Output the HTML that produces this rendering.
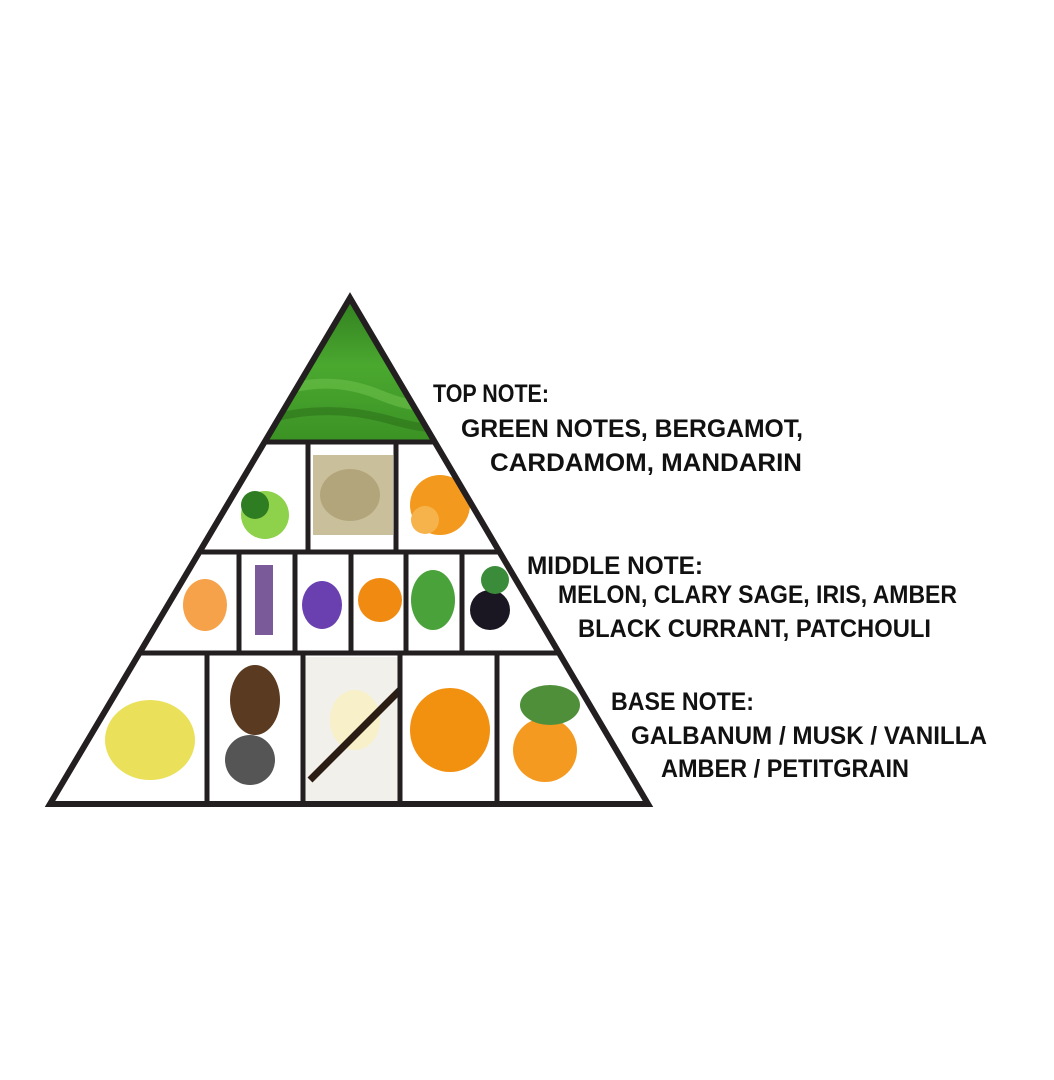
<!DOCTYPE html>
<html><head><meta charset="utf-8"><style>
html,body{margin:0;padding:0;background:#fff;}
svg{display:block}
text{font-family:"Liberation Sans",sans-serif;font-weight:bold;fill:#111;font-size:25px}
</style></head><body>
<svg width="1054" height="1080" viewBox="0 0 1054 1080">
<defs>
<clipPath id="tri"><polygon points="350,297 50,804 648,804"/></clipPath>
<linearGradient id="grass" x1="0" y1="0" x2="0" y2="1">
<stop offset="0" stop-color="#2f7a1e"/><stop offset="0.5" stop-color="#4aa82f"/><stop offset="1" stop-color="#3b9224"/></linearGradient>
</defs>
<rect width="1054" height="1080" fill="#fff"/>
<g clip-path="url(#tri)">
<rect x="0" y="290" width="700" height="152" fill="url(#grass)"/>
<path d="M260,400 Q320,370 380,395 T470,390" stroke="#6cc04a" stroke-width="10" fill="none" opacity="0.6"/>
<path d="M250,425 Q320,400 390,420 T480,415" stroke="#2a6a18" stroke-width="8" fill="none" opacity="0.5"/>
<!-- top row -->
<circle cx="265" cy="515" r="24" fill="#8ed14a"/><circle cx="255" cy="505" r="14" fill="#2f7d22"/>
<rect x="313" y="455" width="80" height="80" fill="#c9bf9a"/>
<ellipse cx="350" cy="495" rx="30" ry="26" fill="#b3a57b"/>
<circle cx="440" cy="505" r="30" fill="#f39a1e"/><circle cx="425" cy="520" r="14" fill="#f7b34b"/>
<!-- middle row -->
<ellipse cx="205" cy="605" rx="22" ry="26" fill="#f5a24a"/>
<rect x="255" y="565" width="18" height="70" fill="#7b5a9a"/>
<ellipse cx="322" cy="605" rx="20" ry="24" fill="#6a3fb0"/>
<ellipse cx="380" cy="600" rx="22" ry="22" fill="#f08a10"/>
<ellipse cx="433" cy="600" rx="22" ry="30" fill="#4aa23a"/>
<circle cx="490" cy="610" r="20" fill="#1b1722"/><circle cx="495" cy="580" r="14" fill="#3a8c3a"/>
<!-- bottom row -->
<ellipse cx="150" cy="740" rx="45" ry="40" fill="#e6d830" opacity="0.8"/>
<ellipse cx="255" cy="700" rx="25" ry="35" fill="#5a3a20"/><ellipse cx="250" cy="760" rx="25" ry="25" fill="#555"/>
<rect x="305" y="657" width="95" height="145" fill="#f2f0ea"/>
<ellipse cx="355" cy="720" rx="25" ry="30" fill="#f7f0c8"/><path d="M310,780 L400,690" stroke="#2b1d14" stroke-width="7"/>
<ellipse cx="450" cy="730" rx="40" ry="42" fill="#f29010"/>
<circle cx="545" cy="750" r="32" fill="#f59a20"/><ellipse cx="550" cy="705" rx="30" ry="20" fill="#4f8f3a"/>
</g>
<g stroke="#231f20" stroke-width="5" fill="none">
<polygon points="350,298 50,804 648,804" stroke-linejoin="miter" stroke-width="6"/>
<line x1="0" y1="442" x2="700" y2="442" clip-path="url(#tri)"/>
<line x1="0" y1="552" x2="700" y2="552" clip-path="url(#tri)"/>
<line x1="0" y1="653" x2="700" y2="653" clip-path="url(#tri)"/>
<line x1="308" y1="442" x2="308" y2="552"/>
<line x1="396" y1="442" x2="396" y2="552"/>
<line x1="239" y1="552" x2="239" y2="653"/>
<line x1="295" y1="552" x2="295" y2="653"/>
<line x1="351" y1="552" x2="351" y2="653"/>
<line x1="406" y1="552" x2="406" y2="653"/>
<line x1="462" y1="552" x2="462" y2="653"/>
<line x1="207" y1="653" x2="207" y2="804"/>
<line x1="303" y1="653" x2="303" y2="804"/>
<line x1="400" y1="653" x2="400" y2="804"/>
<line x1="497" y1="653" x2="497" y2="804"/>
</g>
<text x="433" y="402" textLength="116" lengthAdjust="spacingAndGlyphs">TOP NOTE:</text>
<text x="461" y="437" textLength="342" lengthAdjust="spacingAndGlyphs">GREEN NOTES, BERGAMOT,</text>
<text x="490" y="471" textLength="312" lengthAdjust="spacingAndGlyphs">CARDAMOM, MANDARIN</text>
<text x="527" y="574" textLength="176" lengthAdjust="spacingAndGlyphs">MIDDLE NOTE:</text>
<text x="558" y="603" textLength="399" lengthAdjust="spacingAndGlyphs">MELON, CLARY SAGE, IRIS, AMBER</text>
<text x="578" y="637" textLength="353" lengthAdjust="spacingAndGlyphs">BLACK CURRANT, PATCHOULI</text>
<text x="611" y="710" textLength="143" lengthAdjust="spacingAndGlyphs">BASE NOTE:</text>
<text x="631" y="744" textLength="356" lengthAdjust="spacingAndGlyphs">GALBANUM / MUSK / VANILLA</text>
<text x="661" y="777" textLength="248" lengthAdjust="spacingAndGlyphs">AMBER / PETITGRAIN</text>
</svg>
</body></html>
